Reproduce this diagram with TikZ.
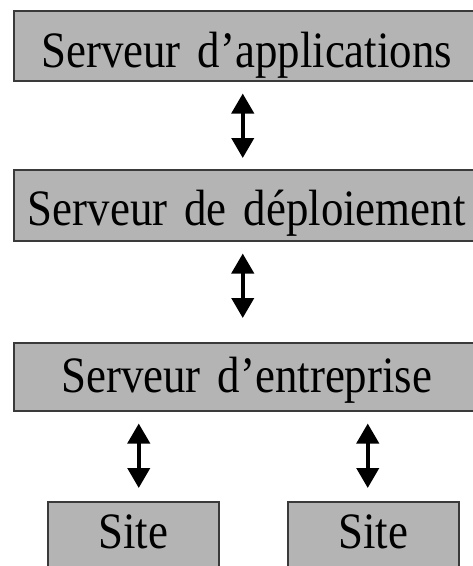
\documentclass[tikz,border=0pt]{standalone}
\usepackage{fontspec}
\setmainfont{Liberation Serif}[FakeStretch=0.88]
\usetikzlibrary{arrows.meta,calc}
\definecolor{boxfill}{HTML}{B4B4B4}
\definecolor{boxline}{HTML}{3A3A3A}
\tikzset{
  box/.style={draw=boxline, line width=1.5pt, fill=boxfill, inner sep=0pt,
    anchor=north west, align=center, font=\fontsize{51}{51}\selectfont},
  dbl/.style={line width=4pt, {Triangle[width=22pt,length=20pt]}-{Triangle[width=22pt,length=20pt]}}
}
\begin{document}
\begin{tikzpicture}[x=1pt,y=-1pt]
\useasboundingbox (0,0) rectangle (473,566);
\clip (0,0) rectangle (473,566);
\node[box, text width=466pt, text height=57pt, text depth=13pt] (b1) at (13,10) {Serveur d’applications};
\node[box, text width=466pt, text height=56pt, text depth=15pt] (b2) at (13,169) {Serveur de déploiement};
\node[box, text width=466pt, text height=50pt, text depth=18pt] (b3) at (13,342) {Serveur d’entreprise};
\node[box, text width=171pt, text height=47pt, text depth=40pt] (s1) at (47,501) {Site};
\node[box, text width=171pt, text height=47pt, text depth=40pt] (s2) at (287,501) {Site};
\draw[dbl] ($(b1.south)+(-4,12)$) -- ($(b2.north)+(-4,-11)$);
\draw[dbl] ($(b2.south)+(-4,12)$) -- ($(b3.north)+(-4,-24)$);
\draw[dbl] ($(s1.north |- b3.south)+(5.5,12)$) -- ($(s1.north)+(5.5,-13)$);
\draw[dbl] ($(s2.north |- b3.south)+(-5.5,12)$) -- ($(s2.north)+(-5.5,-13)$);
\end{tikzpicture}
\end{document}
